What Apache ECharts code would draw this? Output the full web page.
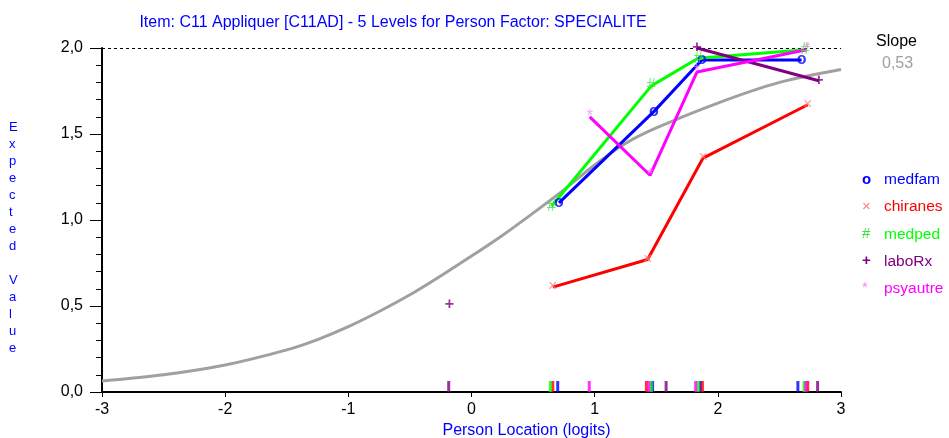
<!DOCTYPE html>
<html>
<head>
<meta charset="utf-8">
<script src="https://cdn.jsdelivr.net/npm/echarts@6/dist/echarts.min.js"></script>
<style>
html,body{margin:0;padding:0;background:#fff;}
#c{width:949px;height:438px;}
</style>
</head>
<body>
<div id="c"></div>
<script>
// ---- data ----
const titleText = 'Item: C11 Appliquer [C11AD] - 5 Levels for Person Factor: SPECIALITE';
const xTicks = [-3, -2, -1, 0, 1, 2, 3];
const yTicks = [0, 0.5, 1.0, 1.5, 2.0];
const slopeValue = '0,53';

// theoretical expected value curve (gray)
const curveX = [-3, -2.5, -2, -1.5, -1.25, -1, -0.75, -0.5, -0.25, 0, 0.25, 0.5, 0.75, 1.0, 1.25, 1.5, 2.0, 2.5, 3.0];
const curveY = [0.064, 0.10, 0.157, 0.245, 0.305, 0.38, 0.468, 0.565, 0.675, 0.79, 0.91, 1.04, 1.175, 1.32, 1.445, 1.535, 1.68, 1.80, 1.875];

const seriesNames = ['medfam', 'chiranes', 'medped', 'laboRx', 'psyautre'];
const medfamX = [0.71, 1.48, 1.87, 2.68];
const medfamY = [1.10, 1.63, 1.93, 1.93];
const chiranesX = [0.66, 1.43, 1.88, 2.73];
const chiranesY = [0.61, 0.77, 1.36, 1.67];
const medpedX = [0.65, 1.46, 1.84, 2.71];
const medpedY = [1.08, 1.78, 1.94, 1.99];
const laboRxX = [-0.18, null, 1.83, 2.82];
const laboRxY = [0.51, null, 2.00, 1.81];
const psyautreX = [0.96, 1.45, 1.83, 2.72];
const psyautreY = [1.60, 1.26, 1.86, 1.99];

// person location marks on the x axis
const medfamRug = [0.70, 1.47, 1.86, 2.65];
const chiranesRug = [0.66, 1.42, 1.875, 2.73];
const medpedRug = [0.64, 1.46, 1.84, 2.70];
const laboRxRug = [-0.185, 1.58, 2.81];
const psyautreRug = [0.956, 1.44, 1.82, 2.715];

// ---- styles ----
const FONT = '"Liberation Sans", Arial, sans-serif';
const lineColors = ['#0000ff', '#ff0000', '#00ff00', '#800080', '#ff00ff'];
const glyphs = ['o', '×', '#', '+', '*'];
const glyphColors = ['#0000ff', '#ff8080', '#40e040', '#800080', '#ff80ff'];
const glyphWeights = ['bold', 'normal', 'normal', 'bold', 'normal'];

const xs = [medfamX, chiranesX, medpedX, laboRxX, psyautreX];
const ys = [medfamY, chiranesY, medpedY, laboRxY, psyautreY];
const rugs = [medfamRug, chiranesRug, medpedRug, laboRxRug, psyautreRug];

function pairs(a, b) {
  return a.map((v, i) => (v === null ? ['-', '-'] : [v, b[i]]));
}
function realPairs(a, b) {
  const out = [];
  a.forEach((v, i) => { if (v !== null) out.push([v, b[i]]); });
  return out;
}
const fmt = v => v.toFixed(1).replace('.', ',');

const series = [];
series.push({
  type: 'line', name: 'curve', data: pairs(curveX, curveY), smooth: 0.3,
  symbol: 'none', lineStyle: { color: '#a0a0a0', width: 3 }, z: 1,
  markLine: {
    silent: true, symbol: 'none', label: { show: false },
    lineStyle: { color: '#000', type: [3, 3], width: 1 },
    data: [{ yAxis: 2 }]
  }
});
seriesNames.forEach((n, k) => {
  series.push({
    type: 'line', name: n, data: pairs(xs[k], ys[k]), connectNulls: false,
    symbol: 'none', lineStyle: { color: lineColors[k], width: 3 },
    z: 3 + k
  });
});
seriesNames.forEach((n, k) => {
  series.push({
    type: 'scatter', name: n + ' marks', data: realPairs(xs[k], ys[k]),
    symbol: 'circle', symbolSize: 1, itemStyle: { color: 'rgba(0,0,0,0)' },
    label: {
      show: true, position: 'inside', formatter: glyphs[k],
      color: glyphColors[k], fontSize: 16, fontWeight: glyphWeights[k],
      fontFamily: FONT
    },
    z: 12
  });
});
seriesNames.forEach((n, k) => {
  series.push({
    type: 'scatter', name: n + ' rug', data: rugs[k].map(v => [v, 0]),
    symbol: 'rect', symbolSize: [3, 11], symbolOffset: [0, -5.5],
    itemStyle: { color: lineColors[k] }, z: 10
  });
});

// legend as text items
const legendItems = [];
seriesNames.forEach((n, k) => {
  legendItems.push({
    type: 'text', left: 862, top: 172 + k * 27.2,
    style: { text: glyphs[k], fill: glyphColors[k], font: glyphWeights[k] + ' 15px ' + FONT }
  });
  legendItems.push({
    type: 'text', left: 884, top: 172 + k * 27.2,
    style: { text: n, fill: lineColors[k], font: '15.5px ' + FONT }
  });
});

const yName = 'Expected Value'.split('').join('\n');

const chart = echarts.init(document.getElementById('c'), null, { renderer: 'canvas' });
chart.setOption({
  animation: false,
  backgroundColor: '#fff',
  title: {
    text: titleText, left: 388, textAlign: 'center', top: 10,
    textStyle: { color: '#0000ff', fontSize: 16, fontWeight: 'normal', fontFamily: FONT }
  },
  grid: { left: 102, right: 108, top: 48, bottom: 46, containLabel: false, outerBoundsMode: 'none' },
  xAxis: {
    type: 'value', min: xTicks[0], max: xTicks[xTicks.length - 1], interval: 1,
    name: 'Person Location (logits)', nameLocation: 'middle', nameGap: 29,
    nameTextStyle: { color: '#0000ff', fontSize: 16, fontFamily: FONT, padding: [0, 0, 0, 110] },
    axisLine: { show: true, onZero: false, lineStyle: { color: '#000', width: 2 } },
    axisTick: { show: true, length: 5, lineStyle: { color: '#000', width: 1 } },
    axisLabel: { color: '#000', fontSize: 16, margin: 10, fontFamily: FONT },
    splitLine: { show: false }
  },
  yAxis: {
    type: 'value', min: yTicks[0], max: yTicks[yTicks.length - 1], interval: 0.5,
    axisLine: { show: true, onZero: false, lineStyle: { color: '#000', width: 2 } },
    axisTick: { show: true, length: 12, lineStyle: { color: '#000', width: 1 } },
    minorTick: { show: true, splitNumber: 5, length: 6, lineStyle: { color: '#000', width: 1 } },
    axisLabel: { color: '#000', fontSize: 16, margin: 19, formatter: fmt, fontFamily: FONT },
    splitLine: { show: false }
  },
  graphic: [
    {
      type: 'text', left: 9, top: 119,
      style: { text: yName, fill: '#0000ff', font: '13px ' + FONT, lineHeight: 17, align: 'center', width: 12 }
    },
    { type: 'text', left: 876, top: 34, style: { text: 'Slope', fill: '#000', font: '16px ' + FONT } },
    { type: 'text', left: 882, top: 56, style: { text: slopeValue, fill: '#a0a0a0', font: '16px ' + FONT } }
  ].concat(legendItems),
  series: series
});
</script>
</body>
</html>
